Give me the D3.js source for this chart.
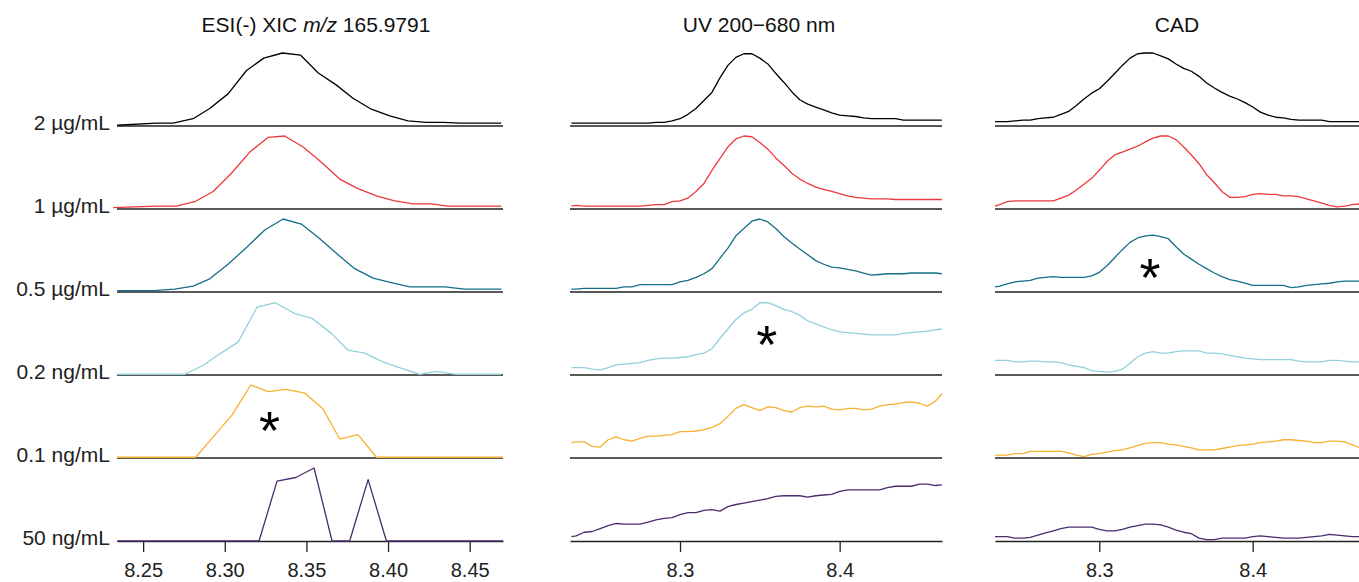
<!DOCTYPE html>
<html>
<head>
<meta charset="utf-8">
<script src="https://cdn.jsdelivr.net/npm/d3@7"></script>
<style>
  body { margin: 0; background: #fff; }
  svg { display: block; font-family: "Liberation Sans", Arial, sans-serif; }
</style>
</head>
<body>
<div id="chart"></div>
<script>
// rows (top to bottom)
const rowLabels = ["2 µg/mL", "1 µg/mL", "0.5 µg/mL", "0.2 ng/mL", "0.1 ng/mL", "50 ng/mL"];
const rowColors = ["#000000", "#ec393d", "#146f88", "#93d0dc", "#f8b030", "#4b2b6e"];

// ESI(-) XIC m/z 165.9791 -- scan times (min) and relative intensity (%)
const esiBlackTime = [8.2341, 8.2582, 8.2684, 8.2806, 8.2908, 8.3020, 8.3133, 8.3239, 8.3353, 8.3465, 8.3571, 8.3684, 8.3785, 8.3898, 8.4010, 8.4122, 8.4234, 8.4336, 8.4448, 8.4693];
const esiBlack     = [1, 4, 4, 10, 24, 44, 76, 93, 100, 97, 73, 56, 38, 23, 14, 7, 5, 5, 4, 4];
const esiRedTime   = [8.2316, 8.2582, 8.2704, 8.2816, 8.2929, 8.3041, 8.3153, 8.3265, 8.3367, 8.3480, 8.3592, 8.3704, 8.3816, 8.3929, 8.4041, 8.4153, 8.4265, 8.4367, 8.4694];
const esiRed       = [2, 4, 4, 10, 24, 49, 78, 98, 100, 85, 64, 41, 28, 18, 11, 7, 7, 4, 4];
const esiTealTime  = [8.2341, 8.2561, 8.2694, 8.2806, 8.2908, 8.3020, 8.3133, 8.3245, 8.3357, 8.3469, 8.3582, 8.3694, 8.3796, 8.3908, 8.4020, 8.4133, 8.4347, 8.4469, 8.4694];
const esiTeal      = [2, 2, 4, 8, 18, 38, 61, 85, 100, 93, 73, 51, 32, 19, 13, 7, 7, 4, 4];
const esiLightTime = [8.2341, 8.2755, 8.2867, 8.2969, 8.3082, 8.3198, 8.3310, 8.3429, 8.3531, 8.3653, 8.3755, 8.3857, 8.3969, 8.4082, 8.4194, 8.4296, 8.4418, 8.4694];
const esiLight     = [1, 1, 13, 29, 45, 93, 99, 84, 78, 57, 34, 30, 18, 9, 1, 5, 1, 1];
const esiOrangeTime = [8.2341, 8.2822, 8.2929, 8.3045, 8.3159, 8.3265, 8.3378, 8.3490, 8.3602, 8.3704, 8.3816, 8.3929, 8.4704];
const esiOrange     = [1, 1, 29, 59, 100, 91, 94, 89, 67, 26, 32, 1, 1];
const esiPurpleTime = [8.2341, 8.3210, 8.3320, 8.3435, 8.3547, 8.3657, 8.3765, 8.3878, 8.3990, 8.4704];
const esiPurple     = [0, 0, 82, 87, 100, 0, 0, 84, 0, 0];

// UV 200-680 nm -- sampled every 0.005 min
const uvTime = [8.232, 8.235, 8.240, 8.245, 8.250, 8.255, 8.260, 8.265, 8.270, 8.275, 8.280,
  8.285, 8.290, 8.295, 8.300, 8.305, 8.310, 8.315, 8.320, 8.325, 8.330,
  8.335, 8.340, 8.345, 8.350, 8.355, 8.360, 8.365, 8.370, 8.375, 8.380,
  8.385, 8.390, 8.395, 8.400, 8.405, 8.410, 8.415, 8.420, 8.425, 8.430,
  8.435, 8.440, 8.445, 8.450, 8.455, 8.460, 8.464];
const uvBlack  = [4, 4,4,4,4,4,4,4,4,4,4, 5,5,7,10,16,24,35,46,66,83, 94,99,99,93,85,72,60,47,36,30, 26,22,18,15,14,13,11,10,10,10, 10,8,8,8,8,8,8];
const uvRed    = [4, 5,4,4,4,4,4,4,4,4,5, 6,6,10,11,15,24,35,53,69,85, 96,100,99,91,82,70,60,49,41,35, 30,27,24,21,18,16,15,14,14,14, 13,13,13,13,13,13,13];
const uvTeal   = [4, 4,5,5,5,5,5,7,7,10,10, 10,10,10,14,16,20,25,32,46,60, 77,87,97,100,96,87,76,67,59,51, 43,38,34,33,31,29,26,23,24,25, 25,25,26,26,26,26,25];
const uvLight  = [10, 10,10,8,7,10,14,15,16,17,20, 22,23,23,24,25,28,30,36,50,63, 76,85,90,99,99,95,90,87,82,74, 70,66,62,59,58,57,56,55,55,55, 55,57,58,59,60,62,63];
const uvOrange = [21, 22,22,16,15,25,29,25,23,27,30, 30,31,32,36,36,37,39,42,47,57, 68,73,69,65,70,69,65,63,69,71, 70,71,67,66,68,68,66,67,71,73, 74,76,77,75,71,78,88];
const uvPurple = [6, 7,12,13,17,21,24,23,23,23,26, 29,31,32,36,39,39,42,43,41,47, 50,52,54,56,58,61,62,62,62,60, 62,63,64,68,70,70,70,70,70,73, 75,75,75,78,78,76,77];

// CAD -- sampled every 0.005 min
const cadTime = [8.232, 8.235, 8.240, 8.245, 8.250, 8.255, 8.260, 8.265, 8.270, 8.275, 8.280,
  8.285, 8.290, 8.295, 8.300, 8.305, 8.310, 8.315, 8.320, 8.325, 8.330,
  8.335, 8.340, 8.345, 8.350, 8.355, 8.360, 8.365, 8.370, 8.375, 8.380,
  8.385, 8.390, 8.395, 8.400, 8.405, 8.410, 8.415, 8.420, 8.425, 8.430,
  8.435, 8.440, 8.445, 8.450, 8.455, 8.460, 8.465, 8.470];
const cadBlack  = [6, 6,6,7,8,8,10,11,12,16,20, 28,37,45,51,61,72,83,93,99,100, 100,96,92,85,79,75,68,59,52,46, 41,37,32,26,19,15,12,11,9,8, 8,8,8,6,6,6,6, 6];
const cadRed    = [4, 6,10,11,11,11,11,11,11,15,19, 26,34,42,53,65,74,78,82,86,92, 97,100,100,95,85,74,62,47,36,24, 16,16,17,20,21,20,20,18,18,17, 14,11,8,5,3,4,6, 7];
const cadTeal   = [7, 8,11,14,15,16,19,20,21,20,20, 20,20,22,27,36,47,58,68,74,77, 78,76,73,62,52,45,38,32,26,21, 17,15,12,9,9,9,9,9,6,7, 9,10,11,12,14,15,15, 15];
const cadLight  = [20, 20,20,18,18,19,19,18,18,17,14, 12,10,6,5,4,5,8,16,25,30, 32,30,30,32,33,33,33,30,30,29, 27,25,23,22,21,21,21,21,21,19, 18,18,18,20,20,19,18, 18];
const cadOrange = [4, 4,4,6,6,9,9,9,9,9,7, 4,2,5,6,8,10,11,14,17,20, 21,21,19,18,16,14,11,11,11,13, 15,17,18,19,21,22,23,25,25,24, 23,21,21,23,23,22,18, 14];
const cadPurple = [6, 6,6,4,4,5,8,11,14,17,19, 19,19,19,16,14,14,16,19,21,23, 23,22,19,15,12,10,4,2,2,4, 4,4,4,6,7,6,5,4,4,4, 5,6,7,9,8,7,6, 6];

const esiTicks = [8.25, 8.30, 8.35, 8.40, 8.45];
const uvTicks = [8.3, 8.4];
const cadTicks = [8.3, 8.4];

// asterisks: panel, row, time, level (%)
const marks = [
    {panel: 0, row: 4, t: 8.3274, v: 55},
    {panel: 1, row: 3, t: 8.3543, v: 59},
    {panel: 2, row: 2, t: 8.3331, v: 37}
];

const pairs = (t, v) => t.map((d, i) => ({t: d, v: v[i]}));

const panels = [
    {title: "esi", titleX: 316, domain: [8.234, 8.4704], range: [117, 503], ticks: esiTicks, fmt: ".2f",
     series: [pairs(esiBlackTime, esiBlack), pairs(esiRedTime, esiRed), pairs(esiTealTime, esiTeal),
              pairs(esiLightTime, esiLight), pairs(esiOrangeTime, esiOrange), pairs(esiPurpleTime, esiPurple)]},
    {title: "UV 200\u2212680 nm", titleX: 759, domain: [8.2311, 8.4641], range: [570, 942], ticks: uvTicks, fmt: ".1f",
     series: [uvBlack, uvRed, uvTeal, uvLight, uvOrange, uvPurple].map(v => pairs(uvTime, v))},
    {title: "CAD", titleX: 1177, domain: [8.232, 8.4693], range: [995, 1359], ticks: cadTicks, fmt: ".1f",
     series: [cadBlack, cadRed, cadTeal, cadLight, cadOrange, cadPurple].map(v => pairs(cadTime, v))}
];

const dims = {width: 1359, height: 582};
const rows = {first: 126, step: 83, height: 73};

const svg = d3.select("#chart")
    .append("svg")
    .attr("width", dims.width)
    .attr("height", dims.height);

const yScales = rowLabels.map((d, i) => d3.scaleLinear()
    .domain([0, 100])
    .range([rows.first + i * rows.step, rows.first + i * rows.step - rows.height]));

// row labels
svg.selectAll(".row-label")
    .data(rowLabels)
    .join("text")
    .attr("class", "row-label")
    .attr("x", 110)
    .attr("y", (d, i) => yScales[i](0) + 4)
    .attr("text-anchor", "end")
    .style("font-size", "21px")
    .style("fill", "#222")
    .text(d => d);

panels.forEach((p, pi) => {
    const x = d3.scaleLinear().domain(p.domain).range(p.range);
    const g = svg.append("g");

    // title
    const title = g.append("text")
        .attr("x", p.titleX)
        .attr("y", 32)
        .attr("text-anchor", "middle")
        .style("font-size", "21px")
        .style("fill", "#111");
    if(pi == 0) {
        title.append("tspan").text("ESI(-) XIC ");
        title.append("tspan").style("font-style", "italic").text("m/z");
        title.append("tspan").text(" 165.9791");
    } else {
        title.text(p.title);
    }

    // baselines for the upper rows
    g.selectAll(".baseline")
        .data(rowLabels.slice(0, 5))
        .join("line")
        .attr("class", "baseline")
        .attr("x1", p.range[0])
        .attr("x2", p.range[1])
        .attr("y1", (d, i) => yScales[i](0))
        .attr("y2", (d, i) => yScales[i](0))
        .attr("stroke", "#222")
        .attr("stroke-width", 1.5);

    // bottom axis
    const axis = g.append("g")
        .attr("transform", `translate(0,${yScales[5](0)})`)
        .call(d3.axisBottom(x)
            .tickValues(p.ticks)
            .tickFormat(d3.format(p.fmt))
            .tickSize(11)
            .tickSizeOuter(0));
    axis.select(".domain").attr("stroke", "#222").attr("stroke-width", 1.5);
    axis.selectAll(".tick line").attr("stroke", "#222").attr("stroke-width", 1.3);
    axis.selectAll(".tick text")
        .attr("y", 36)
        .attr("dy", 0)
        .style("font-family", "Liberation Sans, Arial, sans-serif")
        .style("font-size", "20px")
        .style("fill", "#222");

    // traces
    p.series.forEach((s, i) => {
        const line = d3.line()
            .x(d => x(d.t))
            .y(d => yScales[i](d.v));
        g.append("path")
            .datum(s)
            .attr("d", line)
            .attr("fill", "none")
            .attr("stroke", rowColors[i])
            .attr("stroke-width", 1.3)
            .attr("stroke-linejoin", "round");
    });

    // asterisks
    marks.filter(m => m.panel == pi).forEach(m => {
        g.append("text")
            .attr("x", x(m.t))
            .attr("y", yScales[m.row](m.v) + 31)
            .attr("text-anchor", "middle")
            .style("font-size", "54px")
            .style("fill", "#000")
            .text("*");
    });
});
</script>
</body>
</html>
